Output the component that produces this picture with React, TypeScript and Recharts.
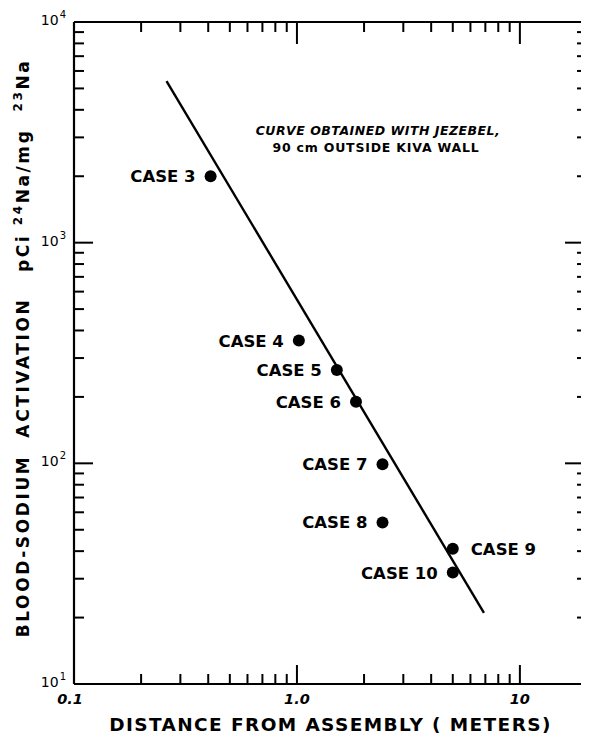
import { ScatterChart, Scatter, XAxis, YAxis } from "recharts";

// measured cases
const caseNames = ["CASE 3", "CASE 4", "CASE 5", "CASE 6", "CASE 7", "CASE 8", "CASE 9", "CASE 10"];
const distances = [0.41, 1.02, 1.51, 1.84, 2.42, 2.42, 5.0, 5.0];
const activity = [2000, 360, 265, 190, 99, 54, 41, 32];

// Jezebel calibration curve (end points of the straight line)
const curveDistance = [0.26, 6.9];
const curveActivity = [5400, 21];

const xMajor = [0.1, 1, 10];
const xTickLabels = ["0.1", "1.0", "10"];
const xMinor = [0.2, 0.3, 0.4, 0.5, 0.6, 0.7, 0.8, 0.9, 2, 3, 4, 5, 6, 7, 8, 9, 20];
const yMajor = [10, 100, 1000, 10000];
const yExponents = ["1", "2", "3", "4"];
const yMinor = [
  20, 30, 40, 50, 60, 70, 80, 90, 200, 300, 400, 500, 600, 700, 800, 900,
  2000, 3000, 4000, 5000, 6000, 7000, 8000, 9000,
];

const labelRight = ["CASE 9"];

const points = caseNames.map((name, i) => ({ name, x: distances[i], y: activity[i] }));
const curve = curveDistance.map((x, i) => ({ x, y: curveActivity[i] }));

const xTicks = [...xMajor, ...xMinor].sort((a, b) => a - b);
const yTicks = [...yMajor, ...yMinor].sort((a, b) => a - b);

const FONT = "'DejaVu Sans', sans-serif";
const MAJOR = 19;
const MINOR = 10;
const TICK_STROKE = "#000";

// ticks point into the plot on all four sides; labels stay outside
function BottomTick({ x, y, payload }: any) {
  const v = payload.value;
  const i = xMajor.indexOf(v);
  const len = i >= 0 ? MAJOR : MINOR;
  return (
    <g>
      <path d={`M${x},${y}V${y - len}`} stroke={TICK_STROKE} strokeWidth={2} fill="none" />
      {i >= 0 && (
        <text x={x - (i === 0 ? 4 : 0)} y={y + 20} textAnchor="middle" fontFamily={FONT}
          fontWeight="bold" fontStyle="italic" fontSize={14.5} fill="#000">
          {xTickLabels[i]}
        </text>
      )}
    </g>
  );
}

function TopTick({ x, y, payload }: any) {
  const len = xMajor.includes(payload.value) ? MAJOR + 3 : MINOR;
  return <path d={`M${x},${y}V${y + len}`} stroke={TICK_STROKE} strokeWidth={2} fill="none" />;
}

function LeftTick({ x, y, payload }: any) {
  const v = payload.value;
  const i = yMajor.indexOf(v);
  const len = i >= 0 ? MAJOR : MINOR;
  return (
    <g>
      <path d={`M${x},${y}H${x + len}`} stroke={TICK_STROKE} strokeWidth={2} fill="none" />
      {i >= 0 && (
        <text x={x - 8} y={y + 3} textAnchor="end" fontFamily={FONT} fontSize={14} fill="#000">
          10
          <tspan dx={1} dy={-7} fontSize={10}>{yExponents[i]}</tspan>
        </text>
      )}
    </g>
  );
}

function RightTick({ x, y, payload }: any) {
  const len = yMajor.includes(payload.value) ? MAJOR + 3 : MINOR;
  return <path d={`M${x},${y}H${x - len}`} stroke={TICK_STROKE} strokeWidth={2} fill="none" />;
}

function CaseDot({ cx, cy, payload }: any) {
  const right = labelRight.includes(payload.name);
  return (
    <g>
      <circle cx={cx} cy={cy} r={6} fill="#000" />
      <text x={right ? cx + 18 : cx - 15} y={cy + 6} textAnchor={right ? "start" : "end"}
        fontFamily={FONT} fontWeight="bold" fontSize={16.5} fill="#000">
        {payload.name}
      </text>
    </g>
  );
}

function YTitle() {
  return (
    <text transform="translate(21, 340) rotate(-90)" textAnchor="middle" fontFamily={FONT}
      fontWeight="bold" fontSize={17} letterSpacing={2.6} fill="#000">
      BLOOD-SODIUM{"\u00a0\u00a0"}ACTIVATION{"\u00a0\u00a0\u00a0"}pCi{"\u00a0"}
      <tspan dy={-7} fontSize={12}>24</tspan>
      <tspan dy={7}>Na/mg{"\u00a0\u00a0"}</tspan>
      <tspan dy={-7} fontSize={12}>23</tspan>
      <tspan dy={7}>Na</tspan>
    </text>
  );
}

export default function App() {
  return (
    <div style={{ width: 581, height: 729, background: "#fff" }}>
      <ScatterChart width={581} height={729} margin={{ top: 0, right: 1, bottom: 3, left: 0 }}>
        <XAxis xAxisId="b" dataKey="x" type="number" scale="log" domain={[0.1, 20]} allowDataOverflow
          ticks={xTicks} interval={0} tickSize={0} tickMargin={0} tickLine={false}
          axisLine={{ stroke: "#000", strokeWidth: 2.2 }} tick={<BottomTick />} height={50}
          label={{ value: "DISTANCE  FROM  ASSEMBLY  ( METERS)", position: "insideBottom", offset: 3,
            style: { fontFamily: FONT, fontWeight: "bold", fontSize: 18.5, letterSpacing: 1.4, fill: "#000" } }} />
        <XAxis xAxisId="t" orientation="top" dataKey="x" type="number" scale="log" domain={[0.1, 20]}
          allowDataOverflow ticks={xTicks} interval={0} tickSize={0} tickMargin={0} tickLine={false}
          axisLine={{ stroke: "#000", strokeWidth: 2.2 }} tick={<TopTick />} height={14} />
        <YAxis yAxisId="l" dataKey="y" type="number" scale="log" domain={[10, 10000]} allowDataOverflow
          ticks={yTicks} interval={0} tickSize={0} tickMargin={0} tickLine={false}
          axisLine={{ stroke: "#000", strokeWidth: 2.2 }} tick={<LeftTick />} width={66}
          label={{ content: () => <YTitle /> }} />
        <YAxis yAxisId="r" orientation="right" dataKey="y" type="number" scale="log" domain={[10, 10000]}
          allowDataOverflow ticks={yTicks} interval={0} tickSize={0} tickMargin={0} tickLine={false}
          axisLine={{ stroke: "#000", strokeWidth: 2.2 }} tick={<RightTick />} width={1} />

        <Scatter xAxisId="t" yAxisId="r" data={points} shape={() => <g />} isAnimationActive={false} />
        <Scatter xAxisId="b" yAxisId="l" data={curve} line={{ stroke: "#000", strokeWidth: 2.4 }}
          shape={() => <g />} isAnimationActive={false} />
        <Scatter xAxisId="b" yAxisId="l" data={points} shape={<CaseDot />} isAnimationActive={false} />

        <text x={370} y={127} textAnchor="middle" fontFamily={FONT} fontWeight="bold" fontStyle="italic"
          fontSize={12.5} letterSpacing={0.5} fill="#000">
          CURVE OBTAINED WITH JEZEBEL,
        </text>
        <text x={368} y={144} textAnchor="middle" fontFamily={FONT} fontWeight="bold"
          fontSize={12.5} letterSpacing={0.8} fill="#000">
          90 cm OUTSIDE KIVA WALL
        </text>
      </ScatterChart>
    </div>
  );
}
